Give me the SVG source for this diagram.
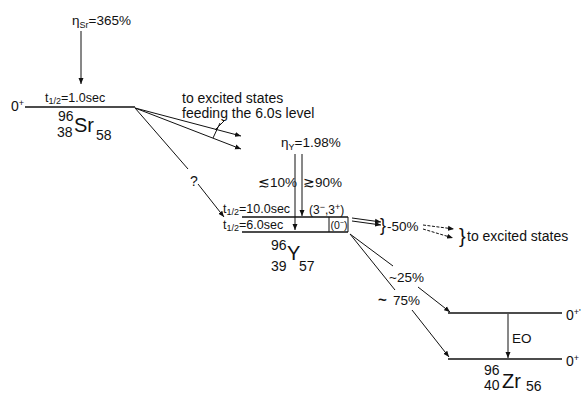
<svg xmlns="http://www.w3.org/2000/svg" width="586" height="393" viewBox="0 0 586 393">
<defs>
<marker id="ah" markerWidth="7" markerHeight="6" refX="6" refY="3" orient="auto" markerUnits="userSpaceOnUse">
<path d="M0,0.5 L6,3 L0,5.5 z" fill="#111"/>
</marker>
<style>
text{font-family:"Liberation Sans",Arial,sans-serif;fill:#111;font-size:13.5px}
.big{font-size:20px}
.sm{font-size:9px}
.lv{stroke:#111;stroke-width:1.4;fill:none}
.ln{stroke:#111;stroke-width:1;fill:none}
.ar{stroke:#111;stroke-width:1;fill:none;marker-end:url(#ah)}
.da{stroke:#111;stroke-width:1;fill:none;stroke-dasharray:3,1.5;marker-end:url(#ah)}
</style>
</defs>
<rect width="586" height="393" fill="#fff"/>

<g id="sr96">
<text x="72" y="25">η<tspan class="sm" dy="3">Sr</tspan><tspan dy="-3">=365%</tspan></text>
<line class="lv" x1="25" y1="107" x2="135" y2="107"/>
<text x="11" y="111" style="font-size:14px">0<tspan class="sm" dy="-5">+</tspan></text>
<text x="45" y="102" style="font-size:12.5px">t<tspan class="sm" dy="2">1/2</tspan><tspan dy="-2">=1.0sec</tspan></text>
<text x="58" y="121" style="font-size:14px">96</text>
<text x="57" y="137" style="font-size:14px">38</text>
<text x="74" y="132" class="big">Sr</text>
<text x="96" y="140" style="font-size:14px">58</text>
</g>

<g id="note-feeding">
<text x="182" y="103" style="font-size:14px">to excited states</text>
<text x="182" y="118" style="font-size:14px">feeding the 6.0s level</text>
</g>

<g id="y96">
<text x="281" y="147">η<tspan class="sm" dy="3">Y</tspan><tspan dy="-3">=1.98%</tspan></text>
<line class="lv" x1="242" y1="217" x2="348" y2="217"/>
<line class="lv" x1="242" y1="232" x2="348" y2="232"/>
<line class="ln" x1="329" y1="217" x2="329" y2="232"/>
<line class="ln" x1="348" y1="217" x2="348" y2="232"/>
<text x="223" y="213" style="font-size:12.5px">t<tspan class="sm" dy="2">1/2</tspan><tspan dy="-2">=10.0sec</tspan></text>
<text x="223" y="229" style="font-size:12.5px">t<tspan class="sm" dy="2">1/2</tspan><tspan dy="-2">=6.0sec</tspan></text>
<text x="309" y="214" style="font-size:12px">(3<tspan class="sm" dy="-4">−</tspan><tspan dy="4">,3</tspan><tspan class="sm" dy="-4">+</tspan><tspan dy="4">)</tspan></text>
<text x="330.5" y="229" style="font-size:10.5px">(0<tspan style="font-size:7px" dy="-4">−</tspan><tspan dy="4">)</tspan></text>
<text x="258" y="187">≲10%</text>
<text x="303" y="187">≳90%</text>
<text x="271" y="250" style="font-size:14px">96</text>
<text x="271" y="271" style="font-size:14px">39</text>
<text x="287" y="260" class="big">Y</text>
<text x="299" y="271" style="font-size:14px">57</text>
</g>

<g id="note-50">
<text x="380" y="231" style="font-size:18px">}</text>
<text x="387" y="231">-50%</text>
<text x="459" y="243" style="font-size:20px">}</text>
<text x="467" y="241" style="font-size:14px">to excited states</text>
</g>

<g id="zr96">
<line class="lv" x1="448" y1="313" x2="562" y2="313"/>
<line class="lv" x1="448" y1="359" x2="562" y2="359"/>
<text x="566" y="320" style="font-size:14px">0<tspan class="sm" dy="-5">+'</tspan></text>
<text x="566" y="366" style="font-size:14px">0<tspan class="sm" dy="-5">+</tspan></text>
<text x="512" y="343">EO</text>
<text x="484" y="375" style="font-size:14px">96</text>
<text x="484" y="390" style="font-size:14px">40</text>
<text x="502" y="388" class="big">Zr</text>
<text x="526" y="391" style="font-size:14px">56</text>
</g>

<g id="branch-labels">
<text x="190" y="186" style="font-size:14px">?</text>
<text x="389" y="282">~25%</text>
<text x="378" y="305"><tspan style="font-weight:bold;font-size:15px">~</tspan><tspan x="393">75%</tspan></text>
</g>

<g id="connectors">
<line class="ar" x1="81" y1="31" x2="81" y2="84"/>
<line class="ar" x1="135" y1="108" x2="241" y2="136"/>
<line class="ar" x1="135" y1="108" x2="241" y2="149"/>
<polyline class="ln" points="224,121 215,130"/>
<polyline class="ln" points="220,123 213,138"/>
<line class="ln" x1="135" y1="108" x2="188" y2="169"/>
<line class="ar" x1="198" y1="184" x2="224" y2="217"/>
<line class="ar" x1="295" y1="154" x2="295" y2="230"/>
<line class="ar" x1="302" y1="154" x2="302" y2="216"/>
<line class="ar" x1="352" y1="218" x2="381" y2="222"/>
<line class="ar" x1="352" y1="221" x2="381" y2="225"/>
<line class="da" x1="423" y1="225" x2="454" y2="229"/>
<line class="da" x1="423" y1="229" x2="453" y2="238"/>
<line class="ln" x1="350" y1="234" x2="393" y2="266"/>
<line class="ln" x1="350" y1="234" x2="395" y2="290"/>
<line class="ar" x1="418" y1="287" x2="450" y2="312"/>
<line class="ar" x1="412" y1="310" x2="449" y2="357"/>
<line class="ar" x1="508" y1="314" x2="508" y2="358"/>
</g>
</svg>
